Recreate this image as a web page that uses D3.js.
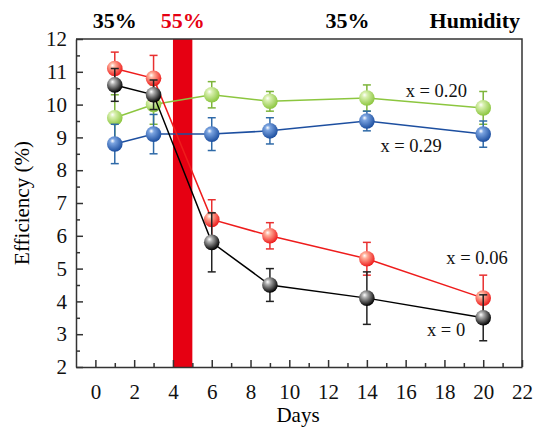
<!DOCTYPE html>
<meta charset="utf-8">
<style>
body { margin: 0; background: #fff; }
text { font-family: "Liberation Serif", "Times New Roman", serif; }
.axis path, .axis line { stroke: #333; stroke-width: 1.5px; }
.axis text { font-size: 21px; fill: #111; }
</style>
<svg width="536" height="428"></svg>
<script src="https://cdn.jsdelivr.net/npm/d3@7"></script>
<script>

// data
var days = [1, 3, 6, 9, 14, 20];
var x0Eff = [10.6, 10.3, 5.8, 4.5, 4.1, 3.5];
var x0Err = [0.5, 0.45, 0.9, 0.5, 0.8, 0.7];
var x006Eff = [11.1, 10.8, 6.5, 6.0, 5.3, 4.1];
var x006Err = [0.5, 0.7, 0.6, 0.4, 0.5, 0.7];
var x020Eff = [9.6, 10.0, 10.3, 10.1, 10.2, 9.9];
var x020Err = [0.7, 0.6, 0.4, 0.3, 0.4, 0.5];
var x029Eff = [8.8, 9.1, 9.1, 9.2, 9.5, 9.1];
var x029Err = [0.6, 0.6, 0.5, 0.4, 0.3, 0.4];
var seriesNames = ["x = 0", "x = 0.06", "x = 0.20", "x = 0.29"];
var humidityBand = [4, 5];
var humidityLabels = [{day: 1, text: "35%"}, {day: 4.5, text: "55%"}, {day: 13, text: "35%"}];

var svg = d3.select("svg"),
    margin = {top: 39, right: 14, bottom: 61, left: 76},
    width = 536 - margin.left - margin.right,
    height = 428 - margin.top - margin.bottom,
    g = svg.append("g").attr("transform", "translate(" + margin.left + "," + margin.top + ")");

var x = d3.scaleLinear().domain([-1, 22]).range([0, width]),
    y = d3.scaleLinear().domain([2, 12]).range([height, 0]);

var series = [
  {name: seriesNames[2], eff: x020Eff, err: x020Err, color: "#8cc63f", light: "#d9f0b0", lab: [16.0, 10.23], errColor: "#7db43a"},
  {name: seriesNames[3], eff: x029Eff, err: x029Err, color: "#1d4fa0", light: "#7aa3e0", lab: [14.7, 8.56], errColor: "#2f6aa8"},
  {name: seriesNames[1], eff: x006Eff, err: x006Err, color: "#ee1c1c", light: "#ffb09a", lab: [18.1, 5.14], errColor: "#e83030"},
  {name: seriesNames[0], eff: x0Eff, err: x0Err, color: "#000000", light: "#b0b0b0", lab: [17.1, 2.95], errColor: "#222"}
];

var defs = svg.append("defs");
series.forEach(function(s, i) {
  var grad = defs.append("radialGradient")
      .attr("id", "ball" + i)
      .attr("cx", "40%").attr("cy", "35%").attr("r", "65%")
      .attr("fx", "35%").attr("fy", "30%");
  grad.append("stop").attr("offset", "0%").attr("stop-color", "#fff");
  grad.append("stop").attr("offset", "25%").attr("stop-color", s.light);
  grad.append("stop").attr("offset", "100%").attr("stop-color", s.color);
});

// humidity band
g.append("rect")
    .attr("x", x(humidityBand[0]))
    .attr("y", 0)
    .attr("width", x(humidityBand[1]) - x(humidityBand[0]))
    .attr("height", height)
    .attr("fill", "#e60012");

// axes
var xAxis = g.append("g")
    .attr("class", "axis")
    .attr("transform", "translate(0," + height + ")")
    .call(d3.axisBottom(x).tickValues(d3.range(0, 23, 2)).tickSize(-7).tickPadding(14).tickSizeOuter(0));
xAxis.selectAll(".tick text").attr("dy", "0.85em");

g.append("g")
    .attr("class", "axis")
    .attr("transform", "translate(0," + height + ")")
    .call(d3.axisBottom(x).tickValues(d3.range(1, 22, 2)).tickSize(-4).tickFormat("").tickSizeOuter(0))
    .select(".domain").remove();

g.append("g")
    .attr("class", "axis")
    .call(d3.axisLeft(y).ticks(10).tickSize(-7).tickPadding(9).tickSizeOuter(0));

g.append("g")
    .attr("class", "axis")
    .call(d3.axisLeft(y).tickValues(d3.range(2.5, 12, 1)).tickSize(-4).tickFormat("").tickSizeOuter(0))
    .select(".domain").remove();

// frame top/right
g.append("path")
    .attr("d", "M0,0H" + width + "V" + height)
    .attr("fill", "none")
    .attr("stroke", "#333")
    .attr("stroke-width", 1.5);

var line = d3.line()
    .x(function(d) { return x(d.day); })
    .y(function(d) { return y(d.eff); });

series.forEach(function(s, i) {
  var pts = days.map(function(d, j) { return {day: d, eff: s.eff[j], err: s.err[j]}; });
  var sg = g.append("g");

  sg.append("path")
      .attr("d", line(pts))
      .attr("fill", "none")
      .attr("stroke", s.color)
      .attr("stroke-width", 1.5);

  var eb = sg.selectAll(".eb").data(pts).enter().append("g").attr("stroke", s.errColor).attr("stroke-width", 1.5);
  eb.append("line")
      .attr("x1", function(d) { return x(d.day); })
      .attr("x2", function(d) { return x(d.day); })
      .attr("y1", function(d) { return y(d.eff - d.err); })
      .attr("y2", function(d) { return y(d.eff + d.err); });
  [-1, 1].forEach(function(sign) {
    eb.append("line")
        .attr("x1", function(d) { return x(d.day) - 4; })
        .attr("x2", function(d) { return x(d.day) + 4; })
        .attr("y1", function(d) { return y(d.eff + sign * d.err); })
        .attr("y2", function(d) { return y(d.eff + sign * d.err); });
  });

  sg.selectAll("circle").data(pts).enter().append("circle")
      .attr("cx", function(d) { return x(d.day); })
      .attr("cy", function(d) { return y(d.eff); })
      .attr("r", 7.8)
      .attr("fill", "url(#ball" + i + ")");

  g.append("text")
      .attr("x", x(s.lab[0]))
      .attr("y", y(s.lab[1]))
      .style("font-size", "18.5px")
      .attr("fill", "#111")
      .text(s.name);
});

// top labels
g.selectAll(".hum").data(humidityLabels).enter().append("text")
    .attr("x", function(d) { return x(d.day); })
    .attr("y", -11)
    .attr("text-anchor", "middle")
    .style("font-size", "22px")
    .style("font-weight", "bold")
    .attr("fill", function(d, i) { return i === 1 ? "#e60012" : "#000"; })
    .text(function(d) { return d.text; });

g.append("text")
    .attr("x", width - 2)
    .attr("y", -11)
    .attr("text-anchor", "end")
    .style("font-size", "22px")
    .style("font-weight", "bold")
    .text("Humidity");

// axis titles
svg.append("text")
    .attr("x", margin.left + width / 2 - 1)
    .attr("y", 422)
    .attr("text-anchor", "middle")
    .style("font-size", "21px")
    .text("Days");

svg.append("text")
    .attr("transform", "translate(29," + (margin.top + height / 2) + ") rotate(-90)")
    .attr("text-anchor", "middle")
    .style("font-size", "21px")
    .text("Efficiency (%)");

</script>
